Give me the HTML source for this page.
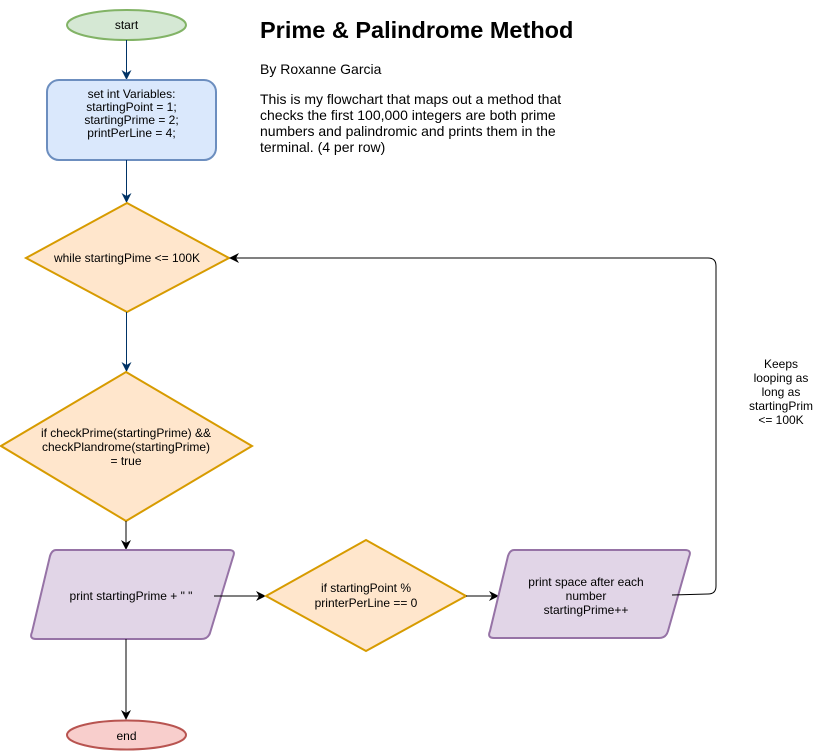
<!DOCTYPE html>
<html><head><style>
body{margin:0;background:#fff;}
svg text{font-family:"Liberation Sans",Arial,sans-serif;}
</style></head><body>
<svg width="817" height="751" xmlns="http://www.w3.org/2000/svg">
<defs>
<marker id="ab" markerWidth="10" markerHeight="10" refX="9" refY="5" orient="auto" markerUnits="userSpaceOnUse"><path d="M0,0 L10,5 L0,10 L3,5 z" fill="#003366"/></marker>
<marker id="ak" markerWidth="10" markerHeight="10" refX="9" refY="5" orient="auto" markerUnits="userSpaceOnUse"><path d="M0,0 L10,5 L0,10 L3,5 z" fill="#000"/></marker>
</defs>
<g font-size="12" text-anchor="middle" fill="#000">
<ellipse cx="126.5" cy="25" rx="59.5" ry="15" fill="#d5e8d4" stroke="#82b366" stroke-width="2"/>
<text x="126.5" y="29">start</text>
<line x1="126.5" y1="40" x2="126.5" y2="79" stroke="#003366" marker-end="url(#ab)"/>
<rect x="47" y="80" width="169" height="80" rx="12" fill="#dae8fc" stroke="#6c8ebf" stroke-width="2"/>
<text x="131.5" y="98">set int Variables:</text>
<text x="131.5" y="111">startingPoint = 1;</text>
<text x="131.5" y="124">startingPrime = 2;</text>
<text x="131.5" y="137">printPerLine = 4;</text>
<line x1="126.5" y1="160" x2="126.5" y2="202" stroke="#003366" marker-end="url(#ab)"/>
<polygon points="127,203 229,258 127,312 26,258" fill="#ffe6cc" stroke="#d79b00" stroke-width="2"/>
<text x="127" y="262">while startingPime &lt;= 100K</text>
<line x1="126.5" y1="312" x2="126.5" y2="371" stroke="#003366" marker-end="url(#ab)"/>
<polygon points="126,372 252,446 126,521 1,446" fill="#ffe6cc" stroke="#d79b00" stroke-width="2"/>
<text x="126" y="437">if checkPrime(startingPrime) &amp;&amp;</text>
<text x="126" y="451">checkPlandrome(startingPrime)</text>
<text x="126" y="465">= true</text>
<line x1="126" y1="521" x2="126" y2="549" stroke="#000" marker-end="url(#ak)"/>
<path d="M56,550 L229,550 Q236,550 233,557 L210,633 Q208,639 201,639 L36,639 Q29,639 32,632 L50,556 Q52,550 56,550 Z" fill="#e1d5e7" stroke="#9673a6" stroke-width="2"/>
<text x="131" y="600">print startingPrime + " "</text>
<line x1="214" y1="596" x2="265" y2="596" stroke="#000" marker-end="url(#ak)"/>
<polygon points="366,540 466,596 366,651 266,596" fill="#ffe6cc" stroke="#d79b00" stroke-width="2"/>
<text x="366" y="592">if startingPoint %</text>
<text x="366" y="607">printerPerLine == 0</text>
<line x1="466" y1="596" x2="498" y2="596" stroke="#000" marker-end="url(#ak)"/>
<path d="M514,550 L685,550 Q692,550 689,557 L668,631 Q666,638 659,638 L494,638 Q487,638 490,631 L508,556 Q510,550 514,550 Z" fill="#e1d5e7" stroke="#9673a6" stroke-width="2"/>
<text x="586" y="586">print space after each</text>
<text x="586" y="600">number</text>
<text x="586" y="614">startingPrime++</text>
<path d="M672,595 L708,594 Q716,594 716,586 L716,266 Q716,258 708,258 L230,258" fill="none" stroke="#000" marker-end="url(#ak)"/>
<text x="781" y="368">Keeps</text>
<text x="781" y="382">looping as</text>
<text x="781" y="396">long as</text>
<text x="781" y="410">startingPrim</text>
<text x="781" y="424">&lt;= 100K</text>
<line x1="126" y1="639" x2="126" y2="719" stroke="#000" marker-end="url(#ak)"/>
<ellipse cx="126.5" cy="735" rx="59.5" ry="14.5" fill="#f8cecc" stroke="#b85450" stroke-width="2"/>
<text x="126.5" y="740">end</text>
</g>
<g fill="#000">
<text x="260" y="38" font-size="23.5" font-weight="bold">Prime &amp; Palindrome Method</text>
<text x="260" y="74" font-size="14">By Roxanne Garcia</text>
<text x="260" y="104" font-size="14">This is my flowchart that maps out a method that</text>
<text x="260" y="120" font-size="14">checks the first 100,000 integers are both prime</text>
<text x="260" y="136" font-size="14">numbers and palindromic and prints them in the</text>
<text x="260" y="152" font-size="14">terminal. (4 per row)</text>
</g>
</svg>
</body></html>
